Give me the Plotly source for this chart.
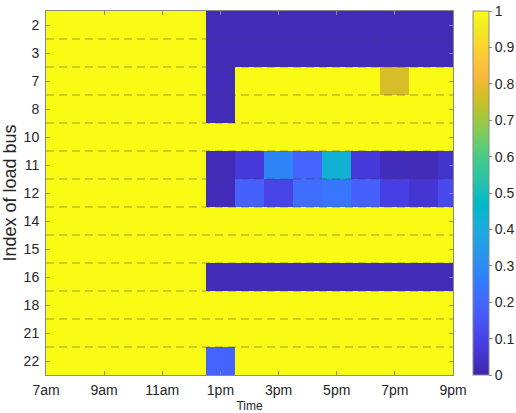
import plotly.graph_objects as go

# ---- data ----
hours = [7, 8, 9, 10, 11, 12, 13, 14, 15, 16, 17, 18, 19, 20, 21]
tick_hours = [7, 9, 11, 13, 15, 17, 19, 21]
tick_labels = ["7am", "9am", "11am", "1pm", "3pm", "5pm", "7pm", "9pm"]
bus_labels = ["2", "3", "7", "8", "10", "11", "12", "14", "15", "16", "18", "21", "22"]

bus2 = [1, 1, 1, 1, 1, 1, 0.02, 0.02, 0.02, 0.02, 0.02, 0.02, 0.02, 0.02, 0.02]
bus3 = [1, 1, 1, 1, 1, 1, 0.02, 0.02, 0.02, 0.02, 0.02, 0.02, 0.02, 0.02, 0.02]
bus7 = [1, 1, 1, 1, 1, 1, 0.02, 1, 1, 1, 1, 1, 0.77, 1, 1]
bus8 = [1, 1, 1, 1, 1, 1, 0.02, 1, 1, 1, 1, 1, 1, 1, 1]
bus10 = [1, 1, 1, 1, 1, 1, 1, 1, 1, 1, 1, 1, 1, 1, 1]
bus11 = [1, 1, 1, 1, 1, 1, 0.02, 0.07, 0.28, 0.19, 0.43, 0.07, 0.025, 0.02, 0.05]
bus12 = [1, 1, 1, 1, 1, 1, 0.02, 0.18, 0.10, 0.22, 0.24, 0.18, 0.09, 0.06, 0.12]
bus14 = [1, 1, 1, 1, 1, 1, 1, 1, 1, 1, 1, 1, 1, 1, 1]
bus15 = [1, 1, 1, 1, 1, 1, 1, 1, 1, 1, 1, 1, 1, 1, 1]
bus16 = [1, 1, 1, 1, 1, 1, 0.02, 0.02, 0.02, 0.02, 0.02, 0.02, 0.02, 0.02, 0.02]
bus18 = [1, 1, 1, 1, 1, 1, 1, 1, 1, 1, 1, 1, 1, 1, 1]
bus21 = [1, 1, 1, 1, 1, 1, 1, 1, 1, 1, 1, 1, 1, 1, 1]
bus22 = [1, 1, 1, 1, 1, 1, 0.19, 1, 1, 1, 1, 1, 1, 1, 1]

z = [bus2, bus3, bus7, bus8, bus10, bus11, bus12, bus14, bus15, bus16, bus18, bus21, bus22]

cbar_ticks = [0, 0.1, 0.2, 0.3, 0.4, 0.5, 0.6, 0.7, 0.8, 0.9, 1]
cbar_labels = ["0", "0.1", "0.2", "0.3", "0.4", "0.5", "0.6", "0.7", "0.8", "0.9", "1"]

# ---- parula colormap ----
parula = [
    (0.2422, 0.1504, 0.6603), (0.2504, 0.1650, 0.7076), (0.2578, 0.1818, 0.7511),
    (0.2647, 0.1978, 0.7952), (0.2706, 0.2147, 0.8364), (0.2751, 0.2342, 0.8710),
    (0.2783, 0.2559, 0.8991), (0.2803, 0.2782, 0.9221), (0.2813, 0.3006, 0.9414),
    (0.2810, 0.3228, 0.9579), (0.2795, 0.3447, 0.9717), (0.2760, 0.3667, 0.9829),
    (0.2699, 0.3892, 0.9906), (0.2602, 0.4123, 0.9952), (0.2440, 0.4358, 0.9988),
    (0.2206, 0.4603, 0.9973), (0.1963, 0.4847, 0.9892), (0.1834, 0.5074, 0.9798),
    (0.1786, 0.5289, 0.9682), (0.1764, 0.5499, 0.9520), (0.1687, 0.5703, 0.9359),
    (0.1540, 0.5902, 0.9218), (0.1460, 0.6091, 0.9079), (0.1380, 0.6276, 0.8973),
    (0.1248, 0.6459, 0.8883), (0.1113, 0.6635, 0.8763), (0.0952, 0.6798, 0.8598),
    (0.0689, 0.6948, 0.8394), (0.0297, 0.7082, 0.8163), (0.0036, 0.7203, 0.7917),
    (0.0067, 0.7312, 0.7660), (0.0433, 0.7411, 0.7394), (0.0964, 0.7500, 0.7120),
    (0.1408, 0.7584, 0.6842), (0.1717, 0.7670, 0.6554), (0.1938, 0.7758, 0.6251),
    (0.2161, 0.7843, 0.5923), (0.2470, 0.7918, 0.5567), (0.2906, 0.7973, 0.5188),
    (0.3406, 0.8008, 0.4789), (0.3909, 0.8029, 0.4354), (0.4456, 0.8024, 0.3909),
    (0.5044, 0.7993, 0.3480), (0.5616, 0.7942, 0.3045), (0.6174, 0.7876, 0.2612),
    (0.6720, 0.7793, 0.2227), (0.7242, 0.7698, 0.1910), (0.7738, 0.7598, 0.1646),
    (0.8203, 0.7498, 0.1535), (0.8634, 0.7406, 0.1596), (0.9035, 0.7330, 0.1774),
    (0.9393, 0.7288, 0.2100), (0.9728, 0.7298, 0.2394), (0.9956, 0.7434, 0.2371),
    (0.9970, 0.7659, 0.2199), (0.9952, 0.7893, 0.2028), (0.9892, 0.8136, 0.1885),
    (0.9786, 0.8386, 0.1766), (0.9676, 0.8639, 0.1643), (0.9610, 0.8890, 0.1537),
    (0.9597, 0.9135, 0.1423), (0.9628, 0.9373, 0.1265), (0.9691, 0.9606, 0.1064),
    (0.9769, 0.9839, 0.0805),
]
n = len(parula)
colorscale = [
    [i / (n - 1), "rgb(%d,%d,%d)" % tuple(round(c * 255) for c in rgb)]
    for i, rgb in enumerate(parula)
]

FONT = "Liberation Sans, Arial, Helvetica, sans-serif"
TXT = "#262626"
AX = "#8a8a8a"

W, H = 516, 413
ML, MR, MT, MB = 46, 63, 11, 38

fig = go.Figure()
fig.add_trace(go.Heatmap(
    x=hours, y=bus_labels, z=z,
    zmin=0, zmax=1, colorscale=colorscale,
    colorbar=dict(
        xref="container", x=473 / W, xanchor="left", xpad=0,
        y=0.5, yanchor="middle", ypad=0,
        len=1, lenmode="fraction",
        thickness=16, thicknessmode="pixels",
        outlinewidth=1, outlinecolor=AX,
        tickvals=cbar_ticks, ticktext=cbar_labels,
        ticks="outside", ticklen=3, tickcolor=AX,
        tickfont=dict(family=FONT, size=14, color=TXT),
    ),
    hoverinfo="skip",
))

# dashed separators between rows
for i in range(len(bus_labels) - 1):
    fig.add_shape(
        type="line", xref="paper", x0=0, x1=1, yref="y", y0=i + 0.5, y1=i + 0.5,
        line=dict(color="rgba(70,70,70,0.5)", width=1, dash="8px,5px"),
        layer="above",
    )

fig.update_layout(
    width=W, height=H,
    margin=dict(l=ML, r=MR, t=MT, b=MB, autoexpand=False),
    paper_bgcolor="white", plot_bgcolor="white",
    font=dict(family=FONT, size=14, color=TXT),
    xaxis=dict(
        range=[7, 21], tickvals=tick_hours, ticktext=tick_labels,
        ticks="inside", ticklen=4, tickcolor=AX,
        showline=True, linecolor=AX, linewidth=1, mirror="ticks",
        showgrid=False, zeroline=False, ticklabelstandoff=2,
        tickfont=dict(family=FONT, size=14, color=TXT),
        title=dict(text="Time", font=dict(family=FONT, size=12, color=TXT), standoff=6),
    ),
    yaxis=dict(
        autorange="reversed", type="category",
        ticks="inside", ticklen=4, tickcolor=AX,
        showline=True, linecolor=AX, linewidth=1, mirror="ticks",
        showgrid=False, zeroline=False, ticklabelstandoff=3,
        tickfont=dict(family=FONT, size=14, color=TXT),
        title=dict(text="Index of load bus", font=dict(family=FONT, size=18, color=TXT), standoff=3),
    ),
)

fig.write_html("out.html")
